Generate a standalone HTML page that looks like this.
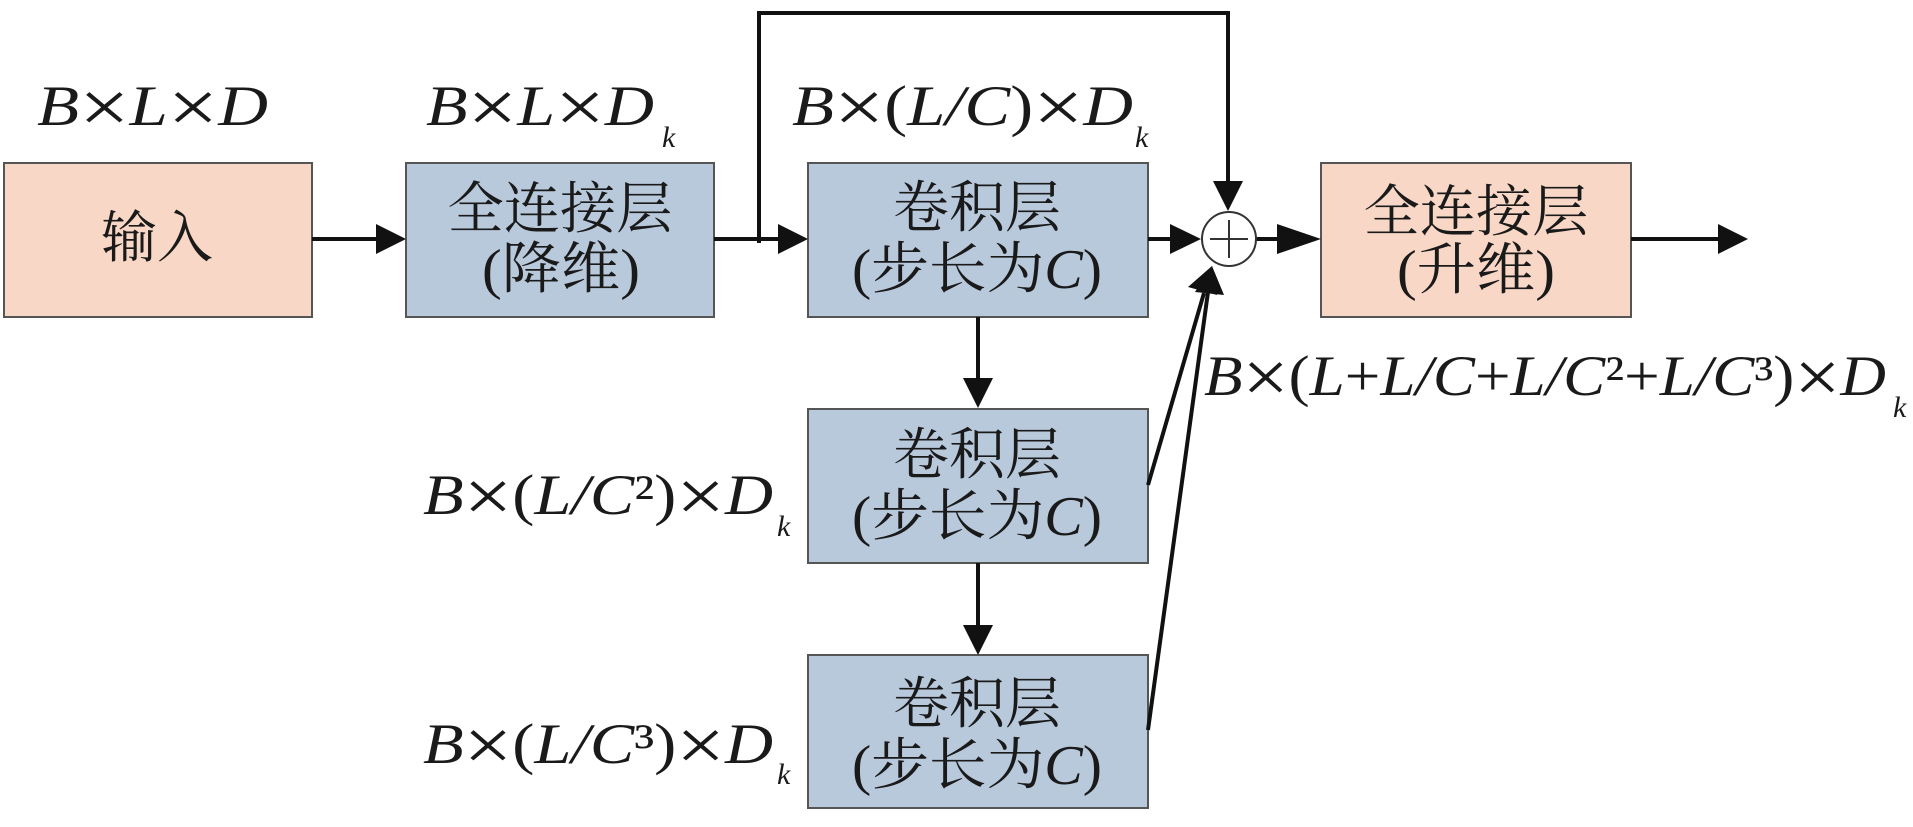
<!DOCTYPE html>
<html>
<head>
<meta charset="utf-8">
<style>
html,body{margin:0;padding:0;background:#fff;}
svg{display:block;}
.cjk{font-family:"Liberation Serif","Noto Serif CJK SC",serif;font-size:56px;fill:#1a1a1a;}
.m{font-family:"Liberation Serif","Noto Serif CJK SC",serif;font-style:italic;font-size:57px;fill:#1a1a1a;}
.x{font-family:"Liberation Serif",serif;font-style:normal;font-size:74px;}
.p{font-style:normal;}
.k{font-family:"Liberation Serif",serif;font-style:italic;font-size:30px;fill:#1a1a1a;}
</style>
</head>
<body>
<svg width="1913" height="827" viewBox="0 0 1913 827" xmlns="http://www.w3.org/2000/svg">
  <!-- Boxes -->
  <rect x="4" y="163" width="308" height="154" fill="#F8D7C6" stroke="#555" stroke-width="2"/>
  <rect x="406" y="163" width="308" height="154" fill="#B8C9DC" stroke="#555" stroke-width="2"/>
  <rect x="808" y="163" width="340" height="154" fill="#B8C9DC" stroke="#555" stroke-width="2"/>
  <rect x="1321" y="163" width="310" height="154" fill="#F8D7C6" stroke="#555" stroke-width="2"/>
  <rect x="808" y="409" width="340" height="154" fill="#B8C9DC" stroke="#555" stroke-width="2"/>
  <rect x="808" y="655" width="340" height="153" fill="#B8C9DC" stroke="#555" stroke-width="2"/>

  <!-- Connectors -->
  <g stroke="#111" stroke-width="4" fill="none">
    <line x1="312" y1="239" x2="378" y2="239"/>
    <line x1="714" y1="239" x2="780" y2="239"/>
    <polyline points="759,243 759,13 1228,13 1228,184"/>
    <line x1="1148" y1="239" x2="1172" y2="239"/>
    <line x1="1256" y1="239" x2="1279" y2="239"/>
    <line x1="1631" y1="239" x2="1720" y2="239"/>
    <line x1="978" y1="317" x2="978" y2="380"/>
    <line x1="978" y1="563" x2="978" y2="627"/>
    <line x1="1148" y1="485" x2="1204" y2="293"/>
    <line x1="1148" y1="730" x2="1208" y2="292"/>
  </g>
  <g fill="#111">
    <polygon points="376,224 406,239 376,254"/>
    <polygon points="778,224 808,239 778,254"/>
    <polygon points="1213,181 1243,181 1228,211"/>
    <polygon points="1170,224 1201,239 1170,254"/>
    <polygon points="1277,224 1321,239 1277,254"/>
    <polygon points="1718,224 1748,239 1718,254"/>
    <polygon points="963,378 993,378 978,408"/>
    <polygon points="963,625 993,625 978,655"/>
    <!-- diagonal arrowheads -->
    <polygon points="1212,266 1188,287 1217,295"/>
    <polygon points="1212,266 1195,292 1224,295"/>
  </g>
  <!-- Sum circle -->
  <circle cx="1229" cy="239" r="27" fill="#fff" stroke="#333" stroke-width="2"/>
  <line x1="1210" y1="239" x2="1248" y2="239" stroke="#333" stroke-width="2"/>
  <line x1="1229" y1="220" x2="1229" y2="258" stroke="#333" stroke-width="2"/>

  <!-- Box labels -->
  <text class="cjk" x="157" y="257" text-anchor="middle" textLength="112" lengthAdjust="spacingAndGlyphs">输入</text>
  <text class="cjk" x="560" y="228" text-anchor="middle" textLength="225" lengthAdjust="spacingAndGlyphs">全连接层</text>
  <text class="cjk" x="561" y="288" text-anchor="middle" textLength="158" lengthAdjust="spacingAndGlyphs">(降维)</text>
  <text class="cjk" x="977" y="227" text-anchor="middle" textLength="168" lengthAdjust="spacingAndGlyphs">卷积层</text>
  <text class="cjk" x="977" y="288" text-anchor="middle" textLength="250" lengthAdjust="spacingAndGlyphs">(步长为<tspan font-style="italic">C</tspan>)</text>
  <text class="cjk" x="1476" y="231" text-anchor="middle" textLength="225" lengthAdjust="spacingAndGlyphs">全连接层</text>
  <text class="cjk" x="1476" y="289" text-anchor="middle" textLength="158" lengthAdjust="spacingAndGlyphs">(升维)</text>
  <text class="cjk" x="977" y="474" text-anchor="middle" textLength="168" lengthAdjust="spacingAndGlyphs">卷积层</text>
  <text class="cjk" x="977" y="535" text-anchor="middle" textLength="250" lengthAdjust="spacingAndGlyphs">(步长为<tspan font-style="italic">C</tspan>)</text>
  <text class="cjk" x="977" y="723" text-anchor="middle" textLength="168" lengthAdjust="spacingAndGlyphs">卷积层</text>
  <text class="cjk" x="977" y="784" text-anchor="middle" textLength="250" lengthAdjust="spacingAndGlyphs">(步长为<tspan font-style="italic">C</tspan>)</text>

  <!-- Dimension labels -->
  <text class="m" x="37" y="125" textLength="231" lengthAdjust="spacingAndGlyphs">B<tspan class="x" dy="7">×</tspan><tspan dy="-7">L</tspan><tspan class="x" dy="7">×</tspan><tspan dy="-7">D</tspan></text>

  <text class="m" x="426" y="125" textLength="228" lengthAdjust="spacingAndGlyphs">B<tspan class="x" dy="7">×</tspan><tspan dy="-7">L</tspan><tspan class="x" dy="7">×</tspan><tspan dy="-7">D</tspan></text>
  <text class="k" x="662" y="147">k</text>

  <text class="m" x="792" y="125" textLength="341" lengthAdjust="spacingAndGlyphs">B<tspan class="x" dy="7">×</tspan><tspan class="p" dy="-7">(</tspan>L/C<tspan class="p">)</tspan><tspan class="x" dy="7">×</tspan><tspan dy="-7">D</tspan></text>
  <text class="k" x="1135" y="147">k</text>

  <text class="m" x="1204" y="395" textLength="682" lengthAdjust="spacingAndGlyphs">B<tspan class="x" dy="7">×</tspan><tspan class="p" dy="-7">(</tspan>L<tspan class="p">+</tspan>L/C<tspan class="p">+</tspan>L/C<tspan class="p">²+</tspan>L/C<tspan class="p">³)</tspan><tspan class="x" dy="7">×</tspan><tspan dy="-7">D</tspan></text>
  <text class="k" x="1893" y="417">k</text>

  <text class="m" x="423" y="514" textLength="350" lengthAdjust="spacingAndGlyphs">B<tspan class="x" dy="7">×</tspan><tspan class="p" dy="-7">(</tspan>L/C<tspan class="p">²)</tspan><tspan class="x" dy="7">×</tspan><tspan dy="-7">D</tspan></text>
  <text class="k" x="777" y="536">k</text>

  <text class="m" x="423" y="763" textLength="350" lengthAdjust="spacingAndGlyphs">B<tspan class="x" dy="7">×</tspan><tspan class="p" dy="-7">(</tspan>L/C<tspan class="p">³)</tspan><tspan class="x" dy="7">×</tspan><tspan dy="-7">D</tspan></text>
  <text class="k" x="777" y="784">k</text>
</svg>
</body>
</html>
